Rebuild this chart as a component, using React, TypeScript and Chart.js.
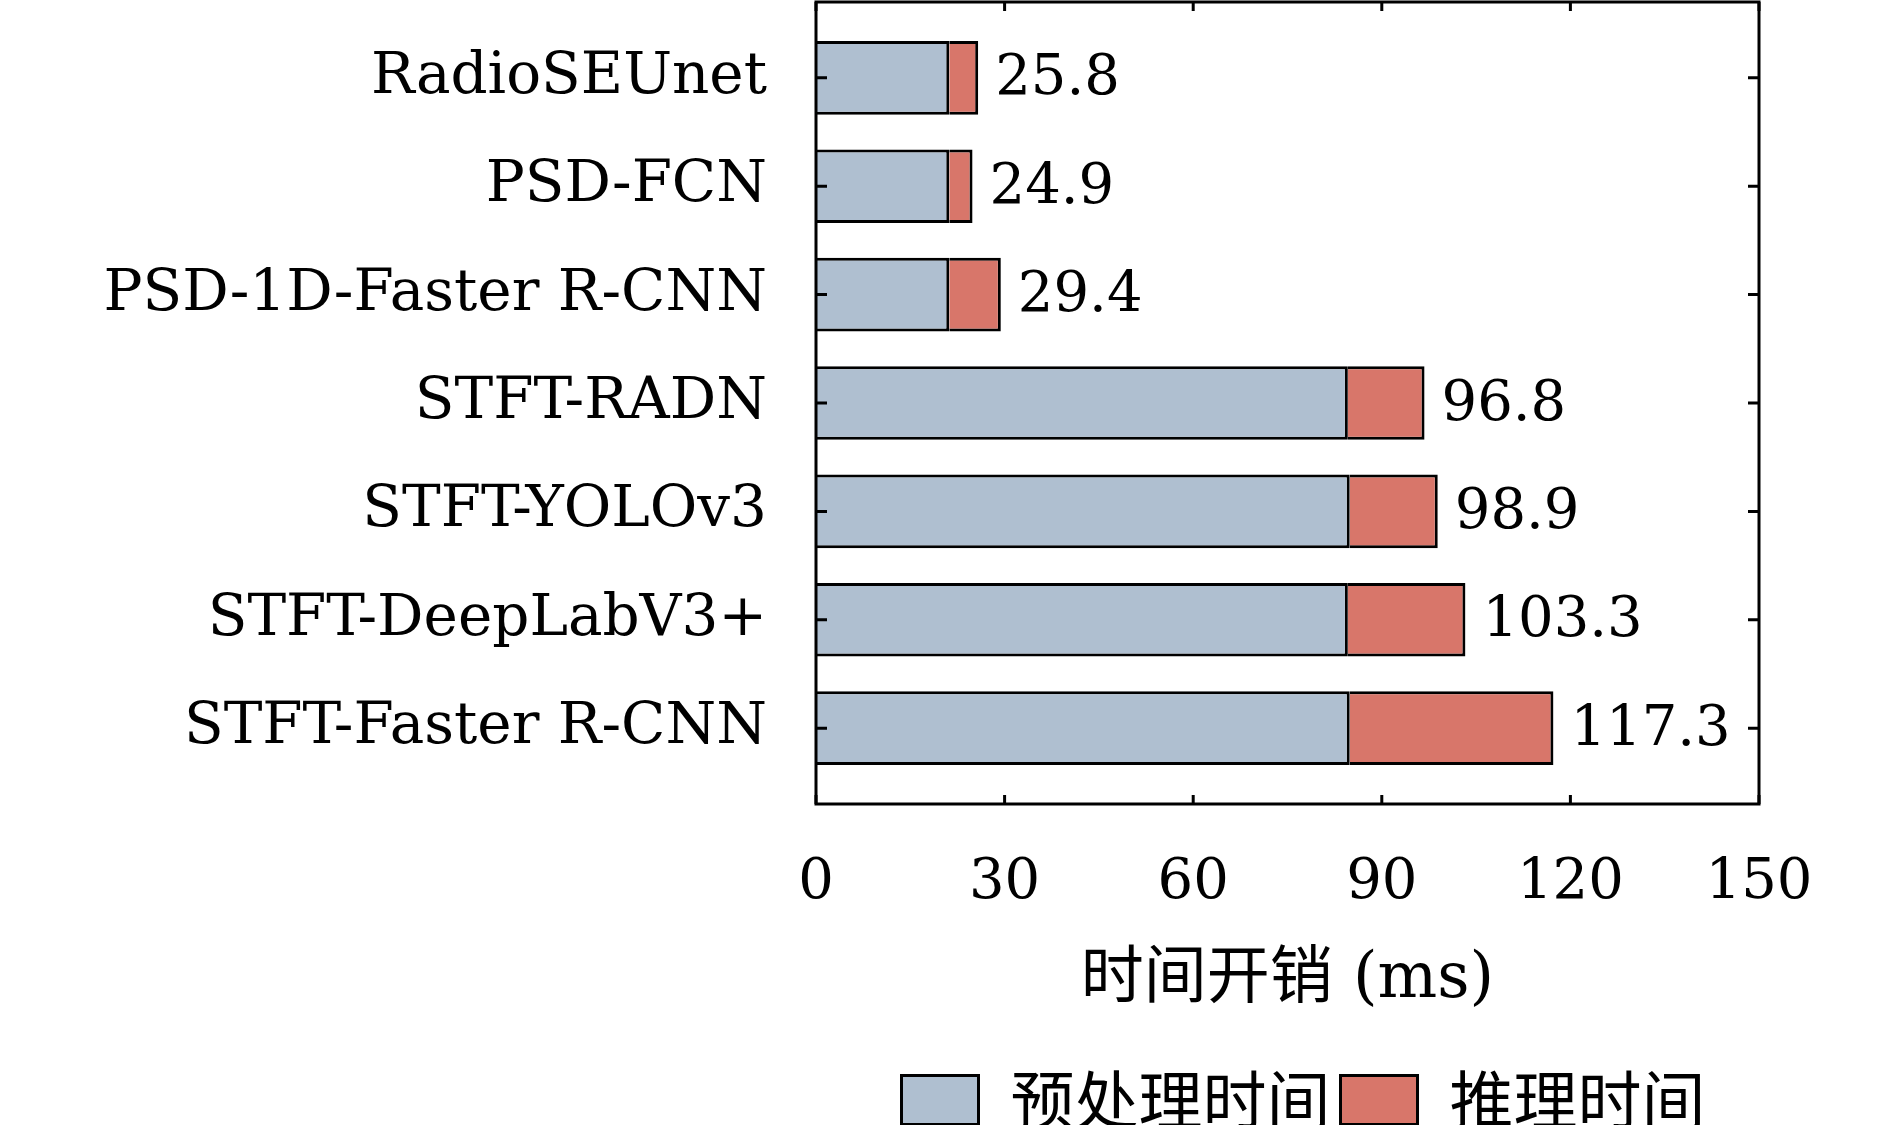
import { useEffect, useRef } from 'react';
import { Chart, registerables } from 'chart.js';

Chart.register(...registerables);

const methods = [
  'RadioSEUnet',
  'PSD-FCN',
  'PSD-1D-Faster R-CNN',
  'STFT-RADN',
  'STFT-YOLOv3',
  'STFT-DeepLabV3+',
  'STFT-Faster R-CNN',
];
const preprocessTime = [21.2, 21.2, 21.2, 84.6, 84.9, 84.6, 84.9];
const totalTime = [25.8, 24.9, 29.4, 96.8, 98.9, 103.3, 117.3];
const inferenceTime = totalTime.map((t, i) => Math.round((t - preprocessTime[i]) * 10) / 10);
const xTicks = [0, 30, 60, 90, 120, 150];
const seriesNames = ['预处理时间', '推理时间'];

const serif = "'DejaVu Serif', 'Noto Sans CJK SC', serif";

// box frame, inward ticks on all four sides, category names and total labels
const frameAndLabels = {
  id: 'frameAndLabels',
  afterLayout(chart: any) {
    // legend sits a bit right of the plot centre in the original
    if (chart.legend) {
      chart.legend.left += 16;
      chart.legend.right += 16;
    }
  },
  afterDatasetsDraw(chart: any) {
    const { ctx, chartArea: a, scales } = chart;
    const xs = scales.x;
    const ys = scales.y;
    ctx.save();
    ctx.strokeStyle = '#000';
    ctx.lineWidth = 3;
    ctx.strokeRect(a.left, a.top, a.right - a.left, a.bottom - a.top);
    ctx.beginPath();
    xTicks.forEach((v) => {
      const px = xs.getPixelForValue(v);
      ctx.moveTo(px, a.bottom);
      ctx.lineTo(px, a.bottom - 9);
      ctx.moveTo(px, a.top);
      ctx.lineTo(px, a.top + 9);
    });
    methods.forEach((_, i) => {
      const py = ys.getPixelForValue(i);
      ctx.moveTo(a.left, py);
      ctx.lineTo(a.left + 11, py);
      ctx.moveTo(a.right, py);
      ctx.lineTo(a.right - 11, py);
    });
    ctx.stroke();

    ctx.fillStyle = '#000';
    ctx.textBaseline = 'middle';
    ctx.font = `58px ${serif}`;
    ctx.textAlign = 'right';
    methods.forEach((m, i) => {
      ctx.fillText(m, a.left - 49, ys.getPixelForValue(i));
    });
    ctx.font = `56px ${serif}`;
    ctx.textAlign = 'left';
    totalTime.forEach((t, i) => {
      ctx.fillText(t.toFixed(1), xs.getPixelForValue(t) + 17, ys.getPixelForValue(i) + 2);
    });
    ctx.restore();
  },
};

const App = () => {
  const chartRef = useRef<HTMLCanvasElement>(null);
  const chartInstance = useRef<Chart | null>(null);

  useEffect(() => {
    const canvas = chartRef.current;
    if (!canvas) return;
    const ctx = canvas.getContext('2d');
    if (!ctx) return;

    if (chartInstance.current) {
      chartInstance.current.destroy();
    }

    chartInstance.current = new Chart(ctx, {
      type: 'bar',
      data: {
        datasets: [
          {
            label: seriesNames[0],
            data: preprocessTime.map((v, i) => ({ x: v, y: i })),
            backgroundColor: '#AFBFD0',
            borderColor: '#000',
            borderWidth: 3,
          },
          {
            label: seriesNames[1],
            data: inferenceTime.map((v, i) => ({ x: v, y: i })),
            backgroundColor: '#D8766A',
            borderColor: '#000',
            borderWidth: 3,
          },
        ],
      },
      plugins: [frameAndLabels],
      options: {
        indexAxis: 'y',
        responsive: false,
        animation: false,
        devicePixelRatio: 1,
        barPercentage: 0.68,
        categoryPercentage: 1,
        layout: {
          padding: { top: 2, right: 131, left: 0, bottom: 0 },
        },
        plugins: {
          tooltip: { enabled: false },
          legend: {
            position: 'bottom',
            fullSize: false,
            maxHeight: 67,
            labels: {
              boxWidth: 77,
              boxHeight: 49,
              padding: 10,
              color: '#000',
              font: { family: "'Noto Sans CJK SC', sans-serif", size: 64, lineHeight: 1 },
            },
          },
        },
        scales: {
          x: {
            type: 'linear',
            stacked: true,
            min: 0,
            max: 150,
            grid: { display: false, drawTicks: false },
            border: { display: false },
            afterBuildTicks: (scale: any) => {
              scale.ticks = xTicks.map((v) => ({ value: v }));
            },
            afterFit: (scale: any) => {
              scale.height = 254;
            },
            ticks: {
              padding: 46,
              color: '#000',
              maxRotation: 0,
              font: { family: serif, size: 56 },
            },
            title: {
              display: true,
              text: '时间开销 (ms)',
              color: '#000',
              font: { family: serif, size: 63 },
              padding: { top: 0, bottom: 40 },
            },
          },
          y: {
            type: 'linear',
            stacked: true,
            reverse: true,
            min: -0.7,
            max: 6.7,
            offset: false,
            grid: { display: false, drawTicks: false },
            border: { display: false },
            ticks: { display: false },
            afterBuildTicks: (scale: any) => {
              scale.ticks = methods.map((_, i) => ({ value: i }));
            },
            afterFit: (scale: any) => {
              scale.width = 816;
            },
          },
        },
      },
    });

    return () => {
      if (chartInstance.current) {
        chartInstance.current.destroy();
        chartInstance.current = null;
      }
    };
  }, []);

  return (
    <div style={{ position: 'fixed', left: 0, top: 0, width: 1890, height: 1125, background: '#fff' }}>
      <canvas ref={chartRef} width={1890} height={1125} style={{ width: 1890, height: 1125 }}></canvas>
    </div>
  );
};

export default App;
